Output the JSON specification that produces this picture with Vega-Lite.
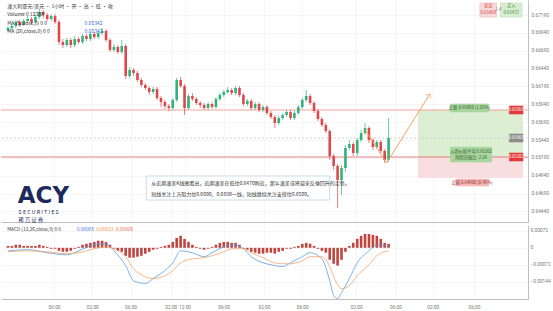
{
  "$schema": "https://vega.github.io/schema/vega-lite/v6.json",
  "padding": 0,
  "background": "#ffffff",
  "spacing": 2,
  "config": {
    "view": {"stroke": null},
    "font": "Noto Sans CJK SC",
    "axis": {"labelFont": "Roboto", "labelFontSize": 4.8, "labelColor": "#777777", "gridColor": "#eeeeee", "gridWidth": 0.6, "domainColor": "#b0b0b0", "domainWidth": 0.8, "ticks": false, "title": null, "labelOverlap": false}
  },
  "datasets": {
    "candles": [
      {"i":0,"o":0.6698,"h":0.67036,"l":0.66952,"c":0.67008},
      {"i":1,"o":0.67008,"h":0.67064,"l":0.6698,"c":0.67036},
      {"i":2,"o":0.67036,"h":0.6712,"l":0.67008,"c":0.67092},
      {"i":3,"o":0.67092,"h":0.6712,"l":0.67022,"c":0.6705},
      {"i":4,"o":0.6705,"h":0.67134,"l":0.67036,"c":0.67106},
      {"i":5,"o":0.67106,"h":0.67176,"l":0.67078,"c":0.67134},
      {"i":6,"o":0.67134,"h":0.67162,"l":0.67064,"c":0.67092},
      {"i":7,"o":0.67092,"h":0.6719,"l":0.67078,"c":0.67162},
      {"i":8,"o":0.67162,"h":0.67274,"l":0.67134,"c":0.67232},
      {"i":9,"o":0.67232,"h":0.6726,"l":0.67148,"c":0.6719},
      {"i":10,"o":0.6719,"h":0.67218,"l":0.67106,"c":0.67134},
      {"i":11,"o":0.67134,"h":0.67204,"l":0.67106,"c":0.67176},
      {"i":12,"o":0.67176,"h":0.67204,"l":0.67064,"c":0.67092},
      {"i":13,"o":0.67092,"h":0.6712,"l":0.6677,"c":0.66812},
      {"i":14,"o":0.66812,"h":0.66854,"l":0.66728,"c":0.6677},
      {"i":15,"o":0.6677,"h":0.66868,"l":0.66742,"c":0.6684},
      {"i":16,"o":0.6684,"h":0.66868,"l":0.66728,"c":0.6677},
      {"i":17,"o":0.6677,"h":0.66896,"l":0.66742,"c":0.66854},
      {"i":18,"o":0.66854,"h":0.66882,"l":0.66784,"c":0.66812},
      {"i":19,"o":0.66812,"h":0.66924,"l":0.66784,"c":0.66896},
      {"i":20,"o":0.66896,"h":0.66924,"l":0.66826,"c":0.66854},
      {"i":21,"o":0.66854,"h":0.66952,"l":0.66826,"c":0.66924},
      {"i":22,"o":0.66924,"h":0.66952,"l":0.66854,"c":0.66882},
      {"i":23,"o":0.66882,"h":0.66966,"l":0.66854,"c":0.66938},
      {"i":24,"o":0.66938,"h":0.67008,"l":0.6691,"c":0.66966},
      {"i":25,"o":0.66966,"h":0.66994,"l":0.66812,"c":0.6684},
      {"i":26,"o":0.6684,"h":0.66868,"l":0.66672,"c":0.667},
      {"i":27,"o":0.667,"h":0.66784,"l":0.66672,"c":0.66742},
      {"i":28,"o":0.66742,"h":0.6677,"l":0.66644,"c":0.66672},
      {"i":29,"o":0.66672,"h":0.6684,"l":0.66644,"c":0.66756},
      {"i":30,"o":0.66756,"h":0.66784,"l":0.66294,"c":0.66336},
      {"i":31,"o":0.66336,"h":0.66462,"l":0.66308,"c":0.6642},
      {"i":32,"o":0.6642,"h":0.66448,"l":0.66336,"c":0.66378},
      {"i":33,"o":0.66378,"h":0.66406,"l":0.66252,"c":0.6628},
      {"i":34,"o":0.6628,"h":0.66308,"l":0.66182,"c":0.6621},
      {"i":35,"o":0.6621,"h":0.66238,"l":0.6614,"c":0.66168},
      {"i":36,"o":0.66168,"h":0.66196,"l":0.6607,"c":0.66112},
      {"i":37,"o":0.66112,"h":0.66182,"l":0.66084,"c":0.66154},
      {"i":38,"o":0.66154,"h":0.66182,"l":0.66,"c":0.66028},
      {"i":39,"o":0.66028,"h":0.66056,"l":0.65902,"c":0.65972},
      {"i":40,"o":0.65972,"h":0.66,"l":0.65874,"c":0.65916},
      {"i":41,"o":0.65916,"h":0.65944,"l":0.65846,"c":0.65888},
      {"i":42,"o":0.65888,"h":0.66028,"l":0.6586,"c":0.66},
      {"i":43,"o":0.66,"h":0.66308,"l":0.65972,"c":0.6628},
      {"i":44,"o":0.6628,"h":0.66322,"l":0.66168,"c":0.66196},
      {"i":45,"o":0.66196,"h":0.66224,"l":0.6579,"c":0.65888},
      {"i":46,"o":0.65888,"h":0.66084,"l":0.6586,"c":0.66056},
      {"i":47,"o":0.66056,"h":0.66098,"l":0.65986,"c":0.66014},
      {"i":48,"o":0.66014,"h":0.66042,"l":0.6593,"c":0.65958},
      {"i":49,"o":0.65958,"h":0.65986,"l":0.65888,"c":0.6593},
      {"i":50,"o":0.6593,"h":0.65958,"l":0.6586,"c":0.65888},
      {"i":51,"o":0.65888,"h":0.65972,"l":0.6586,"c":0.65944},
      {"i":52,"o":0.65944,"h":0.65972,"l":0.65874,"c":0.65902},
      {"i":53,"o":0.65902,"h":0.66042,"l":0.65874,"c":0.66014},
      {"i":54,"o":0.66014,"h":0.66098,"l":0.65986,"c":0.6607},
      {"i":55,"o":0.6607,"h":0.6614,"l":0.66042,"c":0.66112},
      {"i":56,"o":0.66112,"h":0.66182,"l":0.66084,"c":0.6614},
      {"i":57,"o":0.6614,"h":0.66168,"l":0.6607,"c":0.66098},
      {"i":58,"o":0.66098,"h":0.66196,"l":0.6607,"c":0.66168},
      {"i":59,"o":0.66168,"h":0.66196,"l":0.66042,"c":0.6607},
      {"i":60,"o":0.6607,"h":0.66098,"l":0.65916,"c":0.65944},
      {"i":61,"o":0.65944,"h":0.66014,"l":0.65916,"c":0.65986},
      {"i":62,"o":0.65986,"h":0.66014,"l":0.6586,"c":0.65888},
      {"i":63,"o":0.65888,"h":0.65972,"l":0.6586,"c":0.65944},
      {"i":64,"o":0.65944,"h":0.65972,"l":0.65832,"c":0.6586},
      {"i":65,"o":0.6586,"h":0.6593,"l":0.65832,"c":0.65902},
      {"i":66,"o":0.65902,"h":0.6593,"l":0.6579,"c":0.65818},
      {"i":67,"o":0.65818,"h":0.65846,"l":0.65734,"c":0.65762},
      {"i":68,"o":0.65762,"h":0.6579,"l":0.65608,"c":0.65678},
      {"i":69,"o":0.65678,"h":0.65776,"l":0.6565,"c":0.65748},
      {"i":70,"o":0.65748,"h":0.65818,"l":0.6572,"c":0.6579},
      {"i":71,"o":0.6579,"h":0.6586,"l":0.65762,"c":0.65832},
      {"i":72,"o":0.65832,"h":0.6586,"l":0.6572,"c":0.65748},
      {"i":73,"o":0.65748,"h":0.65846,"l":0.6572,"c":0.65818},
      {"i":74,"o":0.65818,"h":0.6593,"l":0.6579,"c":0.65902},
      {"i":75,"o":0.65902,"h":0.66028,"l":0.65874,"c":0.66},
      {"i":76,"o":0.66,"h":0.6614,"l":0.65972,"c":0.66056},
      {"i":77,"o":0.66056,"h":0.66084,"l":0.6593,"c":0.65958},
      {"i":78,"o":0.65958,"h":0.65986,"l":0.65818,"c":0.65846},
      {"i":79,"o":0.65846,"h":0.65874,"l":0.65706,"c":0.65734},
      {"i":80,"o":0.65734,"h":0.65762,"l":0.65622,"c":0.6565},
      {"i":81,"o":0.6565,"h":0.65678,"l":0.65538,"c":0.65566},
      {"i":82,"o":0.65566,"h":0.65594,"l":0.6516,"c":0.65216},
      {"i":83,"o":0.65216,"h":0.65244,"l":0.6502,"c":0.65076},
      {"i":84,"o":0.65076,"h":0.65104,"l":0.64488,"c":0.6488},
      {"i":85,"o":0.6488,"h":0.6509,"l":0.6467,"c":0.65048},
      {"i":86,"o":0.65048,"h":0.6537,"l":0.64992,"c":0.65328},
      {"i":87,"o":0.65328,"h":0.6544,"l":0.653,"c":0.65384},
      {"i":88,"o":0.65384,"h":0.65412,"l":0.65216,"c":0.65258},
      {"i":89,"o":0.65258,"h":0.65468,"l":0.65216,"c":0.6544},
      {"i":90,"o":0.6544,"h":0.6558,"l":0.65412,"c":0.65538},
      {"i":91,"o":0.65538,"h":0.65678,"l":0.6551,"c":0.65608},
      {"i":92,"o":0.65608,"h":0.65636,"l":0.65398,"c":0.6544},
      {"i":93,"o":0.6544,"h":0.65468,"l":0.653,"c":0.65342},
      {"i":94,"o":0.65342,"h":0.6544,"l":0.65314,"c":0.65412},
      {"i":95,"o":0.65412,"h":0.6544,"l":0.65244,"c":0.65286},
      {"i":96,"o":0.65286,"h":0.65314,"l":0.65118,"c":0.6516},
      {"i":97,"o":0.6516,"h":0.65748,"l":0.65132,"c":0.65468}
    ],
    "hist": [
      {"i":0,"h":0.00008},{"i":1,"h":0.00008},{"i":2,"h":0.00013},{"i":3,"h":0.00013},{"i":4,"h":0.00008},{"i":5,"h":0.00008},{"i":6,"h":0.00008},{"i":7,"h":0.00008},{"i":8,"h":0.00013},{"i":9,"h":0.00008},
      {"i":10,"h":0.00004},{"i":11,"h":-0.00004},{"i":12,"h":-0.00004},{"i":13,"h":-0.00013},{"i":14,"h":-0.00017},{"i":15,"h":-0.00017},{"i":16,"h":-0.00013},{"i":17,"h":-0.00004},{"i":18,"h":0.00004},{"i":19,"h":0.00013},
      {"i":20,"h":0.00017},{"i":21,"h":0.00021},{"i":22,"h":0.00025},{"i":23,"h":0.0003},{"i":24,"h":0.0003},{"i":25,"h":0.00025},{"i":26,"h":0.00013},{"i":27,"h":-0.00004},{"i":28,"h":-0.00013},{"i":29,"h":-0.00017},
      {"i":30,"h":-0.00034},{"i":31,"h":-0.00042},{"i":32,"h":-0.00042},{"i":33,"h":-0.00038},{"i":34,"h":-0.00034},{"i":35,"h":-0.00025},{"i":36,"h":-0.00017},{"i":37,"h":-0.00008},{"i":38,"h":-0.00004},{"i":39,"h":0.00004},
      {"i":40,"h":0.00008},{"i":41,"h":0.00013},{"i":42,"h":0.00025},{"i":43,"h":0.00042},{"i":44,"h":0.00051},{"i":45,"h":0.00038},{"i":46,"h":0.00025},{"i":47,"h":0.00013},{"i":48,"h":0.00004},{"i":49,"h":-0.00004},
      {"i":50,"h":-0.00008},{"i":51,"h":-0.00004},{"i":52,"h":0.00004},{"i":53,"h":0.00013},{"i":54,"h":0.00021},{"i":55,"h":0.00025},{"i":56,"h":0.00025},{"i":57,"h":0.00021},{"i":58,"h":0.00021},{"i":59,"h":0.00013},
      {"i":60,"h":-0.00004},{"i":61,"h":-0.00008},{"i":62,"h":-0.00017},{"i":63,"h":-0.00021},{"i":64,"h":-0.00025},{"i":65,"h":-0.00025},{"i":66,"h":-0.00021},{"i":67,"h":-0.00021},{"i":68,"h":-0.00025},{"i":69,"h":-0.00017},
      {"i":70,"h":-0.00013},{"i":71,"h":-0.00004},{"i":72,"h":-0.00004},{"i":73,"h":0.00004},{"i":74,"h":0.00008},{"i":75,"h":0.00017},{"i":76,"h":0.00021},{"i":77,"h":0.00017},{"i":78,"h":0.00008},{"i":79,"h":-0.00004},
      {"i":80,"h":-0.00013},{"i":81,"h":-0.00021},{"i":82,"h":-0.00051},{"i":83,"h":-0.00068},{"i":84,"h":-0.00076},{"i":85,"h":-0.00051},{"i":86,"h":-0.00017},{"i":87,"h":0.00008},{"i":88,"h":0.00021},{"i":89,"h":0.00038},
      {"i":90,"h":0.00051},{"i":91,"h":0.00059},{"i":92,"h":0.00059},{"i":93,"h":0.00055},{"i":94,"h":0.00051},{"i":95,"h":0.00038},{"i":96,"h":0.00021},{"i":97,"h":0.00017}
    ],
    "macdl": [
      {"i":0,"dif":-0.00013,"dea":-0.00017},{"i":5,"dif":-0.00008,"dea":-0.00013},{"i":10,"dif":-0.00021,"dea":-0.00017},
      {"i":15,"dif":-0.0003,"dea":-0.00025},{"i":18,"dif":-0.00013,"dea":-0.00021},{"i":22,"dif":0.00013,"dea":-0.00004},
      {"i":25,"dif":0.00017,"dea":0.00004},{"i":27,"dif":-0.00013,"dea":-0.00004},{"i":30,"dif":-0.00076,"dea":-0.00038},
      {"i":32,"dif":-0.0014,"dea":-0.00089},{"i":35,"dif":-0.00152,"dea":-0.00123},{"i":37,"dif":-0.00131,"dea":-0.00131},
      {"i":40,"dif":-0.00097,"dea":-0.00119},{"i":42,"dif":-0.00064,"dea":-0.00097},{"i":44,"dif":-0.00013,"dea":-0.00064},
      {"i":47,"dif":-0.00021,"dea":-0.00047},{"i":50,"dif":-0.00038,"dea":-0.00042},{"i":52,"dif":-0.00021,"dea":-0.00034},
      {"i":55,"dif":0.00004,"dea":-0.00017},{"i":57,"dif":0.00013,"dea":-0.00004},{"i":60,"dif":-0.00004,"dea":-0.00004},
      {"i":62,"dif":-0.00038,"dea":-0.00021},{"i":65,"dif":-0.00064,"dea":-0.00042},{"i":67,"dif":-0.00072,"dea":-0.00059},
      {"i":70,"dif":-0.0008,"dea":-0.00068},{"i":72,"dif":-0.00064,"dea":-0.00068},{"i":75,"dif":-0.00038,"dea":-0.00055},
      {"i":77,"dif":-0.00021,"dea":-0.00038},{"i":80,"dif":-0.00047,"dea":-0.00038},{"i":82,"dif":-0.0014,"dea":-0.0008},
      {"i":83,"dif":-0.00203,"dea":-0.00123},{"i":84,"dif":-0.00216,"dea":-0.00157},{"i":85,"dif":-0.00191,"dea":-0.00174},
      {"i":87,"dif":-0.00131,"dea":-0.00161},{"i":89,"dif":-0.00064,"dea":-0.00119},{"i":92,"dif":-0.00013,"dea":-0.00072},
      {"i":94,"dif":0.00013,"dea":-0.00034},{"i":97,"dif":0.00004,"dea":-0.00013}
    ]
  },
  "vconcat": [
    {
      "width": 527,
      "height": 222,
      "layer": [
        {
          "data": {"values": [
            {"i1":104.5,"i2":131.25,"p1":0.6586,"p2":0.65202,"f":"#dcefd3"},
            {"i1":104.5,"i2":131.25,"p1":0.65202,"p2":0.64908,"f":"#f8dede"}
          ]},
          "mark": {"type": "rect"},
          "encoding": {
            "x": {"field": "i1", "type": "quantitative", "scale": {"domain": [-0.5, 131.25], "nice": false, "zero": false},
                  "axis": {"values": [11.75,21.5,31.25,41.5,45,55,65.25,75,88.75,98.75,108.25,118.75], "tickCount": 40, "labels": false, "grid": true, "domain": true, "title": null}},
            "x2": {"field": "i2"},
            "y": {"field": "p1", "type": "quantitative", "scale": {"domain": [0.64292, 0.674], "nice": false, "zero": false},
                  "axis": {"orient": "right", "values": [0.6719,0.6694,0.6669,0.6644,0.6619,0.6594,0.6569,0.6544,0.6519,0.6494,0.6469,0.6444], "tickCount": 40, "format": ".5f", "grid": true, "domain": true, "labelPadding": 3, "labelOverlap": false, "title": null}},
            "y2": {"field": "p2"},
            "fill": {"field": "f", "type": "nominal", "scale": null}
          }
        },
        {
          "data": {"values": [
            {"p":0.6586,"col":"#f08a80","d":0},
            {"p":0.65468,"col":"#c8c8c8","d":1},
            {"p":0.65202,"col":"#e06060","d":0}
          ]},
          "mark": {"type": "rule", "strokeWidth": 0.8},
          "encoding": {
            "y": {"field": "p", "type": "quantitative"},
            "color": {"field": "col", "type": "nominal", "scale": null},
            "strokeDash": {"field": "d", "type": "nominal", "scale": {"domain": [0, 1], "range": [[1, 0], [2, 2]]}, "legend": null}
          }
        },
        {
          "data": {"name": "candles"},
          "mark": {"type": "rule", "strokeWidth": 0.7},
          "encoding": {
            "x": {"field": "i", "type": "quantitative"},
            "y": {"field": "l", "type": "quantitative"},
            "y2": {"field": "h"},
            "color": {"condition": {"test": "datum.c >= datum.o", "value": "#2fb27c"}, "value": "#e0474c"}
          }
        },
        {
          "data": {"name": "candles"},
          "mark": {"type": "bar", "width": 2.6},
          "encoding": {
            "x": {"field": "i", "type": "quantitative"},
            "y": {"field": "o", "type": "quantitative"},
            "y2": {"field": "c"},
            "color": {"condition": {"test": "datum.c >= datum.o", "value": "#2fb27c"}, "value": "#e0474c"}
          }
        },
        {
          "data": {"values": [
            {"i":91,"p":0.6558,"k":0},
            {"i":96.5,"p":0.65118,"k":1},
            {"i":107.5,"p":0.66084,"k":2}
          ]},
          "mark": {"type": "line", "color": "#f3a463", "strokeWidth": 1},
          "encoding": {
            "x": {"field": "i", "type": "quantitative"},
            "y": {"field": "p", "type": "quantitative"},
            "order": {"field": "k"}
          }
        },
        {
          "data": {"values": [{"i":107.5,"p":0.66084}]},
          "mark": {"type": "point", "shape": "M-1,1L0,0L1,1", "filled": false, "stroke": "#f3a463", "strokeWidth": 1, "size": 40, "angle": 32},
          "encoding": {
            "x": {"field": "i", "type": "quantitative"},
            "y": {"field": "p", "type": "quantitative"}
          }
        },
        {
          "data": {"values": [
            {"i1":35.25,"i2":82,"p1":0.64936,"p2":0.646,"f":"#ffffff","s":"#9fc6e8"},
            {"i1":112.75,"i2":122.5,"p1":0.65944,"p2":0.65832,"f":"#a9d69f","s":"#a9d69f"},
            {"i1":112.75,"i2":123.25,"p1":0.65342,"p2":0.65132,"f":"#a9d69f","s":"#a9d69f"},
            {"i1":114,"i2":122.5,"p1":0.64894,"p2":0.64796,"f":"#f4b8b8","s":"#f4b8b8"},
            {"i1":127.75,"i2":131.25,"p1":0.65916,"p2":0.65804,"f":"#e23a3a","s":"#e23a3a"},
            {"i1":127.75,"i2":131.25,"p1":0.65524,"p2":0.65412,"f":"#8c8c8c","s":"#8c8c8c"},
            {"i1":127.75,"i2":131.25,"p1":0.65258,"p2":0.65146,"f":"#e23a3a","s":"#e23a3a"},
            {"i1":120.25,"i2":124.5,"p1":0.67358,"p2":0.67162,"f":"#f9d8d8","s":"#f0c0c0"},
            {"i1":125.5,"i2":131,"p1":0.67358,"p2":0.67162,"f":"#d8edd0","s":"#c0dfb4"}
          ]},
          "mark": {"type": "rect", "strokeWidth": 0.6},
          "encoding": {
            "x": {"field": "i1", "type": "quantitative"},
            "x2": {"field": "i2"},
            "y": {"field": "p1", "type": "quantitative"},
            "y2": {"field": "p2"},
            "fill": {"field": "f", "type": "nominal", "scale": null},
            "stroke": {"field": "s", "type": "nominal", "scale": null}
          }
        },
        {
          "data": {"values": [
            {"i":-0.2,"p":0.67316,"t":"澳大利亚元/美元 · 1小时 · 开 · 高 · 低 · 收","col":"#333333"},
            {"i":-0.2,"p":0.67204,"t":"Volume  0  12330","col":"#333333"},
            {"i":-0.2,"p":0.67078,"t":"MA (5,close,0)  0  0","col":"#333333"},
            {"i":-0.2,"p":0.66966,"t":"MA (20,close,0)  0  0","col":"#333333"},
            {"i":19.5,"p":0.67078,"t":"0.65342","col":"#2f6fd6"},
            {"i":19.5,"p":0.66966,"t":"0.65342","col":"#2f6fd6"},
            {"i":36.5,"p":0.64838,"t":"从近期澳美K线图看出，近期澳美在低位0.6470附近，那么澳美或将迎来反弹回升的走势。","col":"#333333"},
            {"i":36.5,"p":0.64684,"t":"短线关注上方阻力位0.6600、0.6690一线，短线继续关注支撑位0.6500。","col":"#333333"}
          ]},
          "mark": {"type": "text", "align": "left", "baseline": "middle", "fontSize": 5},
          "encoding": {
            "x": {"field": "i", "type": "quantitative"},
            "y": {"field": "p", "type": "quantitative"},
            "text": {"field": "t"},
            "color": {"field": "col", "type": "nominal", "scale": null}
          }
        },
        {
          "data": {"values": [
            {"i":117.6,"p":0.65888,"t":"止盈 0.65860 (1.01%)","col":"#2d5a28"},
            {"i":118,"p":0.65272,"t":"入场价格平均 0.65202","col":"#2d5a28"},
            {"i":118,"p":0.65188,"t":"风险回报比: 2.24","col":"#2d5a28"},
            {"i":118.25,"p":0.64845,"t":"止损 0.64908 (0.45%)","col":"#8b2a2a"},
            {"i":129.5,"p":0.6586,"t":"0.65860","col":"#ffffff"},
            {"i":129.5,"p":0.65468,"t":"0.65468","col":"#ffffff"},
            {"i":129.5,"p":0.65202,"t":"0.65202","col":"#ffffff"},
            {"i":122.4,"p":0.67316,"t":"卖出","col":"#d04040"},
            {"i":122.4,"p":0.67218,"t":"0.65468","col":"#d04040"},
            {"i":128.25,"p":0.67316,"t":"买入","col":"#3a8a3a"},
            {"i":128.25,"p":0.67218,"t":"0.65472","col":"#3a8a3a"},
            {"i":125,"p":0.6726,"t":"1.4","col":"#777777"}
          ]},
          "mark": {"type": "text", "align": "center", "baseline": "middle", "fontSize": 4.3},
          "encoding": {
            "x": {"field": "i", "type": "quantitative"},
            "y": {"field": "p", "type": "quantitative"},
            "text": {"field": "t"},
            "color": {"field": "col", "type": "nominal", "scale": null}
          }
        },
        {
          "data": {"values": [{"i":2.5,"p":0.64488,"t":"ACY"}]},
          "mark": {"type": "text", "align": "left", "baseline": "bottom", "fontSize": 23, "fontWeight": "bold", "font": "DejaVu Sans", "color": "#1d2b5c"},
          "encoding": {
            "x": {"field": "i", "type": "quantitative"},
            "y": {"field": "p", "type": "quantitative"},
            "text": {"field": "t"}
          }
        },
        {
          "data": {"values": [
            {"i":2.7,"p":0.6443,"t":"S E C U R I T I E S"},
            {"i":2.7,"p":0.64325,"t":"稀    万    证    券"}
          ]},
          "mark": {"type": "text", "align": "left", "baseline": "middle", "fontSize": 5.3, "color": "#1d2b5c"},
          "encoding": {
            "x": {"field": "i", "type": "quantitative"},
            "y": {"field": "p", "type": "quantitative"},
            "text": {"field": "t"}
          }
        }
      ]
    },
    {
      "width": 527,
      "height": 74,
      "layer": [
        {
          "data": {"name": "hist"},
          "mark": {"type": "bar", "width": 2.6, "color": "#c0453f"},
          "encoding": {
            "x": {"field": "i", "type": "quantitative", "scale": {"domain": [-0.5, 131.25], "nice": false, "zero": false},
                  "axis": {"values": [11.75,21.5,31.25,41.5,45,55,65.25,75,88.75,98.75,108.25,118.75], "tickCount": 40, "grid": true, "domain": true, "labelPadding": 5, "labelOverlap": false, "title": null,
                           "labelExpr": "['06:00','02:00','06:00','02:00','12:00','06:00','02:00','06:00','02:00','06:00','02:00','06:00'][indexof([11.75,21.5,31.25,41.5,45,55,65.25,75,88.75,98.75,108.25,118.75], datum.value)]"}},
            "y": {"field": "h", "type": "quantitative", "scale": {"domain": [-0.00218, 0.00097], "nice": false, "zero": false},
                  "axis": {"orient": "right", "values": [0.00072, 0, -0.00072, -0.00144], "tickCount": 40, "grid": true, "domain": true, "labelPadding": 2, "labelOverlap": false, "title": null,
                           "labelExpr": "datum.value == 0 ? '0' : format(datum.value, '.5f')"}},
            "y2": {"datum": 0}
          }
        },
        {
          "data": {"name": "macdl"},
          "mark": {"type": "line", "color": "#5a9ee0", "strokeWidth": 0.8, "interpolate": "monotone"},
          "encoding": {
            "x": {"field": "i", "type": "quantitative"},
            "y": {"field": "dif", "type": "quantitative"}
          }
        },
        {
          "data": {"name": "macdl"},
          "mark": {"type": "line", "color": "#f2a36b", "strokeWidth": 0.8, "interpolate": "monotone"},
          "encoding": {
            "x": {"field": "i", "type": "quantitative"},
            "y": {"field": "dea", "type": "quantitative"}
          }
        },
        {
          "data": {"values": [
            {"i":-0.2,"v":0.00076,"t":"MACD (12,26,close,9)  0  0","col":"#333333"},
            {"i":17.5,"v":0.00076,"t":"0.00005","col":"#2f6fd6"},
            {"i":22.5,"v":0.00076,"t":"0.00022","col":"#f08a3a"},
            {"i":27.5,"v":0.00076,"t":"0.00006","col":"#e0603a"}
          ]},
          "mark": {"type": "text", "align": "left", "baseline": "middle", "fontSize": 4.8},
          "encoding": {
            "x": {"field": "i", "type": "quantitative"},
            "y": {"field": "v", "type": "quantitative"},
            "text": {"field": "t"},
            "color": {"field": "col", "type": "nominal", "scale": null}
          }
        }
      ]
    }
  ]
}
